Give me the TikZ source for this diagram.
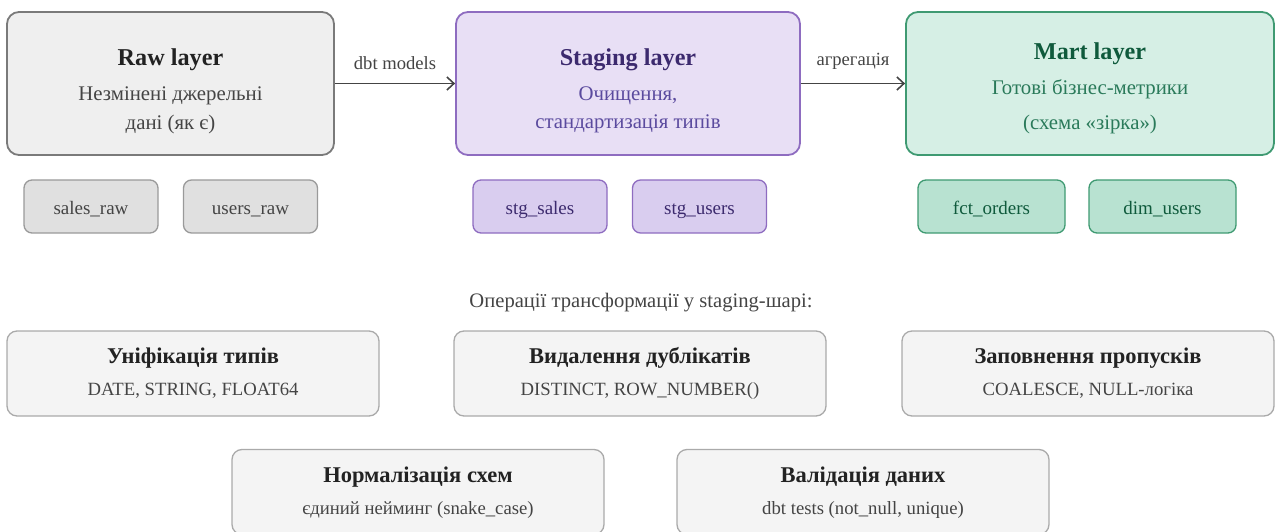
\documentclass[tikz,border=0pt]{standalone}
\usepackage{fontspec}
\setmainfont{Liberation Serif}
\usetikzlibrary{arrows.meta}
\definecolor{rawfill}{HTML}{EFEFEF}
\definecolor{rawline}{HTML}{7A7A7A}
\definecolor{rawsmall}{HTML}{E0E0E0}
\definecolor{rawsmallline}{HTML}{9A9A9A}
\definecolor{stgfill}{HTML}{E8DFF5}
\definecolor{stgline}{HTML}{8E6CC0}
\definecolor{stgsmall}{HTML}{D9CDEF}
\definecolor{stgtitle}{HTML}{3C2A6E}
\definecolor{stgtext}{HTML}{5A4A9E}
\definecolor{martfill}{HTML}{D6EFE5}
\definecolor{martline}{HTML}{3F9A72}
\definecolor{martsmall}{HTML}{B8E2D1}
\definecolor{marttitle}{HTML}{0F5A3C}
\definecolor{marttext}{HTML}{2A7A5A}
\definecolor{opfill}{HTML}{F4F4F4}
\definecolor{opline}{HTML}{AAAAAA}
\definecolor{dark}{HTML}{222222}
\definecolor{mid}{HTML}{444444}
\definecolor{arrowc}{HTML}{444444}
\begin{document}
\begin{tikzpicture}[x=1pt,y=-1pt,
  bigbox/.style={draw, rounded corners=12pt, line width=1.8pt, inner sep=0pt},
  smallbox/.style={draw, rounded corners=8pt, line width=1.3pt, inner sep=0pt, minimum width=134pt, minimum height=53pt},
  smalltext/.style={font=\fontsize{19}{22}\selectfont, inner sep=0pt, anchor=base},
  opbox/.style={draw=opline, fill=opfill, rounded corners=10pt, line width=1.3pt, inner sep=0pt, minimum width=372pt, minimum height=85pt},
  ttl/.style={font=\fontsize{24.2}{28}\selectfont\bfseries, inner sep=0pt},
  sub/.style={font=\fontsize{20.8}{24}\selectfont, inner sep=0pt},
  optitle/.style={font=\fontsize{22.5}{26}\selectfont\bfseries, text=dark, inner sep=0pt},
  opsub/.style={font=\fontsize{18.7}{22}\selectfont, text=mid, inner sep=0pt},
  flow/.style={draw=arrowc, line width=1.8pt, -{Straight Barb[length=7pt,width=13pt,line width=1.6pt]}},
  flowlbl/.style={font=\fontsize{18.6}{22}\selectfont, text=mid, inner sep=0pt}
]
\useasboundingbox (0,0) rectangle (1275,532);
\clip (0,0) rectangle (1275,532);
% big layer boxes
\node[bigbox, fill=rawfill, draw=rawline, minimum width=327pt, minimum height=143pt] (raw) at (170.5,83.5) {};
\node[bigbox, fill=stgfill, draw=stgline, minimum width=344pt, minimum height=143pt] (stg) at (628,83.5) {};
\node[bigbox, fill=martfill, draw=martline, minimum width=368pt, minimum height=143pt] (mart) at (1090,83.5) {};
% texts
\node[ttl, text=dark] (rawt) at (170.5,60) {Raw layer};
\node[sub, text=mid] (raws1) at (170.5,96) {Незмінені джерельні};
\node[sub, text=mid] (raws2) at (170.5,124) {дані (як є)};
\node[ttl, text=stgtitle] (stgt) at (628,60) {Staging layer};
\node[sub, text=stgtext] (stgs1) at (628,96) {Очищення,};
\node[sub, text=stgtext] (stgs2) at (628,124) {стандартизація типів};
\node[ttl, text=marttitle] (martt) at (1090,54) {Mart layer};
\node[sub, text=marttext] (marts1) at (1090,89) {Готові бізнес-метрики};
\node[sub, text=marttext] (marts2) at (1090,124) {(схема «зірка»)};
% arrows
\draw[flow] (raw.east) -- (stg.west) node[midway, above=13pt, flowlbl] (l1) {dbt models};
\draw[flow] (stg.east) -- (mart.west) node[midway, above=13pt, flowlbl] (l2) {агрегація};
% small boxes
\node[smallbox, fill=rawsmall, draw=rawsmallline] (s1) at (91,206.5) {};
\node[smallbox, fill=rawsmall, draw=rawsmallline] (s2) at (250.5,206.5) {};
\node[smallbox, fill=stgsmall, draw=stgline] (s3) at (540,206.5) {};
\node[smallbox, fill=stgsmall, draw=stgline] (s4) at (699.5,206.5) {};
\node[smallbox, fill=martsmall, draw=martline, minimum width=147pt] (s5) at (991.5,206.5) {};
\node[smallbox, fill=martsmall, draw=martline, minimum width=147pt] (s6) at (1162.5,206.5) {};
\node[smalltext, text=mid] (s1t) at (91,214.5) {sales\_raw};
\node[smalltext, text=mid] (s2t) at (250.5,214.5) {users\_raw};
\node[smalltext, text=stgtitle] (s3t) at (540,214.5) {stg\_sales};
\node[smalltext, text=stgtitle] (s4t) at (699.5,214.5) {stg\_users};
\node[smalltext, text=marttitle] (s5t) at (991.5,214.5) {fct\_orders};
\node[smalltext, text=marttitle] (s6t) at (1162.5,214.5) {dim\_users};
% operations heading
\node[font=\fontsize{20.6}{24}\selectfont, text=mid, inner sep=0pt] (ophead) at (641,303) {Операції трансформації у staging-шарі:};
% operation boxes
\node[opbox] (o1) at (193,373.5) {};
\node[optitle] (o1t) at (193,358) {Уніфікація типів};
\node[opsub] (o1s) at (193,391) {DATE, STRING, FLOAT64};
\node[opbox] (o2) at (640,373.5) {};
\node[optitle] (o2t) at (640,358) {Видалення дублікатів};
\node[opsub] (o2s) at (640,391) {DISTINCT, ROW\_NUMBER()};
\node[opbox] (o3) at (1088,373.5) {};
\node[optitle] (o3t) at (1088,358) {Заповнення пропусків};
\node[opsub] (o3s) at (1088,391) {COALESCE, NULL-логіка};
\node[opbox] (o4) at (418,492) {};
\node[optitle] (o4t) at (418,477) {Нормалізація схем};
\node[opsub] (o4s) at (418,510) {єдиний нейминг (snake\_case)};
\node[opbox] (o5) at (863,492) {};
\node[optitle] (o5t) at (863,477) {Валідація даних};
\node[opsub] (o5s) at (863,510) {dbt tests (not\_null, unique)};
\end{tikzpicture}
\end{document}
